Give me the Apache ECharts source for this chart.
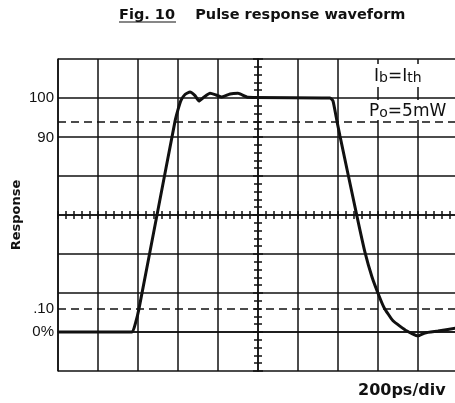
<!DOCTYPE html>
<html>
    <head>
        <meta charset="utf-8"/>
        <script src="https://cdn.jsdelivr.net/npm/echarts@6.0.0/dist/echarts.min.js"></script>
        <style>
            body { margin: 0; background: #fff; }
        </style>
    </head>
	<body>
        <div id="main" style="width: 455px;height: 403px;"></div>
		<script>
			// waveform (time in ps, response in %)
			var timePs = [0, 370, 388, 405, 495, 585, 600, 615, 635, 660, 685, 705, 730, 760, 790, 820, 860, 900, 950,
				1360, 1375, 1395, 1410, 1495, 1535, 1570, 1605, 1630, 1675, 1745, 1800, 1835, 1900, 2000];
			var responsePct = [0, 0, 4, 10, 50, 90, 95, 99, 101.5, 102.6, 101, 98.7, 100.4, 102, 101.3, 100.4, 101.7, 102, 100.3,
				100, 98.7, 90, 83.7, 49.4, 34, 23.5, 15.5, 10.5, 4.8, 0.4, -1.7, -0.4, 0.4, 1.8];
			// dashed reference levels
			var refLevels = [90, 10];
			// y tick labels
			var yLabelValues = [0, 10, 90, 100];
			var yLabelTexts = ['0%', '.10', '90', '100'];

			var div = 100 / 6;
			var ink = '#111';
			var font = '"Liberation Sans", Arial, sans-serif';
			var wide = '"DejaVu Sans", sans-serif';

			var points = timePs.map(function (t, i) { return [t, responsePct[i]]; });

			function centerX(inside) {
				return {
					gridIndex: 0, type: 'value', min: 0, max: 2000, interval: 200,
					position: 'bottom', offset: -156,
					axisLine: { show: !inside, lineStyle: { color: ink, width: 1.5 } },
					axisTick: { show: true, inside: inside, length: 4, lineStyle: { color: ink, width: 1.5 } },
					minorTick: { show: true, splitNumber: 5, length: 4, lineStyle: { color: ink, width: 1.5 } },
					axisLabel: { show: false }, splitLine: { show: false }
				};
			}
			function centerY(inside) {
				return {
					gridIndex: 0, type: 'value', min: -div, max: 7 * div, interval: div,
					position: 'left', offset: -200,
					axisLine: { show: !inside, lineStyle: { color: ink, width: 1.5 } },
					axisTick: { show: true, inside: inside, length: 5, lineStyle: { color: ink, width: 1.5 } },
					minorTick: { show: true, splitNumber: 5, length: 4, lineStyle: { color: ink, width: 1.5 } },
					axisLabel: { show: false }, splitLine: { show: false }
				};
			}

			var subRich = {
				m: { fontFamily: wide, fontSize: 17, lineHeight: 20, verticalAlign: 'bottom', fill: ink },
				s: { fontFamily: wide, fontSize: 14, lineHeight: 14, verticalAlign: 'bottom', fill: ink }
			};

			var myChart = echarts.init(document.getElementById('main'));
			myChart.setOption({
				animation: false,
				backgroundColor: '#fff',
				title: {
					left: 114, top: 3,
					text: '{u|Fig. 10}    Pulse response waveform',
					textStyle: {
						fontFamily: wide, fontSize: 14.5, fontWeight: 'bold', color: ink,
						rich: { u: { fontFamily: wide, fontSize: 14.5, fontWeight: 'bold', color: ink } }
					}
				},
				grid: { left: 58, top: 59, right: -3, bottom: 32, containLabel: false, outerBoundsMode: 'none' },
				xAxis: [{
					type: 'value', min: 0, max: 2000, interval: 200,
					axisLine: { show: true, lineStyle: { color: ink, width: 1.5 } },
					axisTick: { show: false }, axisLabel: { show: false },
					splitLine: { show: true, lineStyle: { color: ink, width: 1.5 } }
				}, centerX(false), centerX(true)],
				yAxis: [{
					type: 'value', min: -div, max: 7 * div, interval: div,
					name: 'Response', nameLocation: 'middle', nameGap: 35, nameRotate: 90, nameMoveOverlap: false,
					nameTextStyle: { fontFamily: wide, fontSize: 13, fontWeight: 'bold', color: ink },
					axisLine: { show: true, lineStyle: { color: ink, width: 1.5 } },
					axisTick: { show: false },
					axisLabel: {
						customValues: yLabelValues,
						margin: 4,
						fontFamily: font, fontSize: 15, color: ink,
						formatter: function (v) {
							var i = yLabelValues.indexOf(Math.round(v));
							var t = i < 0 ? '' : yLabelTexts[i];
							return t === '90' ? '{lo|90}' : t;
						},
						rich: { lo: { fontFamily: font, fontSize: 15, color: ink, padding: [32, 0, 0, 0] } }
					},
					splitLine: { show: true, lineStyle: { color: ink, width: 1.5 } }
				}, centerY(false), centerY(true)],
				series: [{
					type: 'line',
					data: points,
					smooth: 0.15,
					symbol: 'none',
					lineStyle: { color: ink, width: 3 },
					markLine: {
						silent: true,
						symbol: ['none', 'none'],
						label: { show: false },
						lineStyle: { color: ink, width: 1.5, type: [8, 5] },
						data: refLevels.map(function (v) { return { yAxis: v }; })
					}
				}],
				graphic: [{
					type: 'line',
					shape: { x1: 119, y1: 22, x2: 176, y2: 22 },
					style: { stroke: ink, lineWidth: 1.2 }
				}, {
					type: 'text', left: 371, top: 64, z: 10,
					style: {
						text: '{m|I}{s|b}{m|=I}{s|th}',
						backgroundColor: '#fff',
						padding: [1, 3, 2, 3],
						rich: subRich
					}
				}, {
					type: 'text', left: 367, top: 100, z: 10,
					style: {
						text: '{m|P}{s|o}{m|=5mW}',
						backgroundColor: '#fff',
						padding: [0, 2, 0, 2],
						rich: subRich
					}
				}, {
					type: 'text', left: 358, top: 383,
					style: {
						text: '200ps/div',
						fontFamily: wide, fontSize: 16, fontWeight: 'bold', fill: ink
					}
				}]
			});
		</script>
  </body>
</html>
